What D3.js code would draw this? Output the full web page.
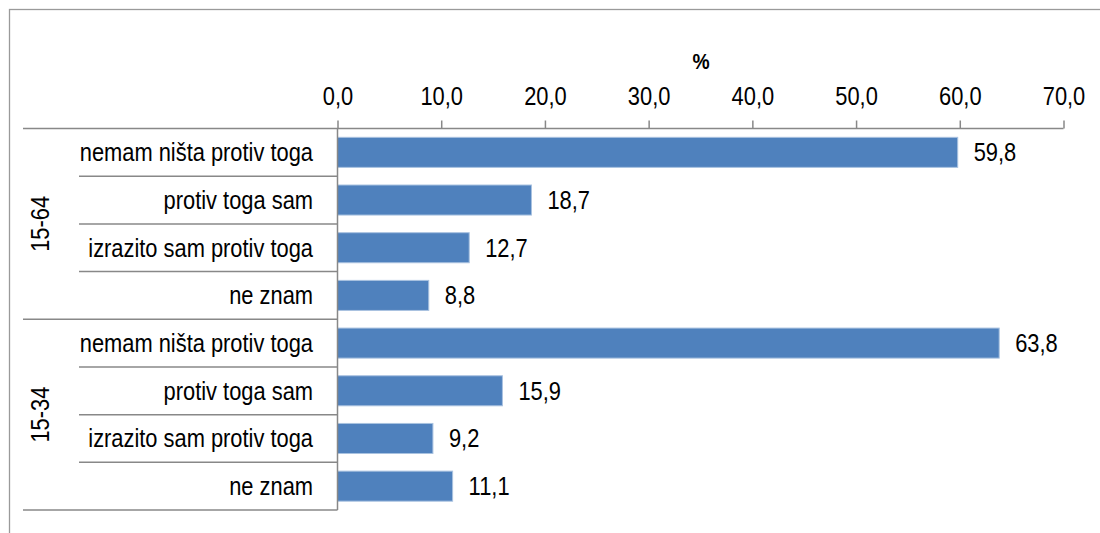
<!DOCTYPE html>
<html>

<head>
	<meta charset="utf-8">
	<title>Stav prema ... (15-64, 15-34)</title>
	<script type="text/javascript" src="https://cdn.jsdelivr.net/npm/d3@7"></script>
	<style>
		body { margin: 0; background: #fff; }
		text { font-family: "Liberation Sans", Arial, sans-serif; fill: #000; }
	</style>
</head>

<body>
	<script type="text/javascript">
		// Podaci
		const groups = ["15-64", "15-34"];
		const categories = ["nemam ništa protiv toga", "protiv toga sam", "izrazito sam protiv toga", "ne znam"];
		const values1564 = [59.8, 18.7, 12.7, 8.8];
		const values1534 = [63.8, 15.9, 9.2, 11.1];
		const tickValues = [0, 10, 20, 30, 40, 50, 60, 70];
		const axisTitle = "%";

		// jedan red za svaku kombinaciju grupa/kategorija
		const allValues = [values1564, values1534];
		let rows = [];
		for (let g = 0; g < groups.length; g++) {
			for (let c = 0; c < categories.length; c++) {
				rows.push({ key: g + "-" + c, group: groups[g], cat: categories[c], value: allValues[g][c] });
			}
		}

		const w = 1100;
		const h = 533;
		const topY = 128.5;
		const bottomY = 510;
		const x0 = 337.5;
		// tekst u originalu je uzak (Arial Narrow), pa ga malo stisnemo
		const squeeze = "scale(0.875,1)";

		const locale = d3.formatLocale({ decimal: ",", thousands: ".", grouping: [3], currency: ["", ""] });
		const fmt = locale.format(".1f");

		const xScale = d3.scaleLinear()
			.domain([0, 70])
			.range([x0, 1063.5]);

		const yScale = d3.scaleBand()
			.domain(rows.map(d => d.key))
			.range([topY, bottomY])
			.paddingInner(0.37)
			.paddingOuter(0.185);

		const step = yScale.step();

		const svg = d3.select("body")
			.append("svg")
			.attr("width", w)
			.attr("height", h);

		// okvir
		svg.append("rect")
			.attr("x", 9.5)
			.attr("y", 9.5)
			.attr("width", 1200)
			.attr("height", 600)
			.attr("fill", "none")
			.attr("stroke", "#9a9a9a")
			.attr("stroke-width", 1.3);

		// stupci
		svg.selectAll("rect.bar")
			.data(rows)
			.enter()
			.append("rect")
			.attr("class", "bar")
			.attr("x", xScale(0))
			.attr("y", d => yScale(d.key))
			.attr("width", d => xScale(d.value) - xScale(0))
			.attr("height", yScale.bandwidth())
			.attr("fill", "#4f81bd")
			.attr("stroke", "#a9c2e0")
			.attr("stroke-width", 1);

		// vrijednosti
		svg.selectAll("text.val")
			.data(rows)
			.enter()
			.append("text")
			.attr("class", "val")
			.attr("transform", d => "translate(" + (xScale(d.value) + 16) + "," + (yScale(d.key) + yScale.bandwidth() / 2 + 9) + ") " + squeeze)
			.attr("font-size", 25)
			.text(d => fmt(d.value));

		// x os (gore)
		const xAxis = d3.axisTop(xScale)
			.tickValues(tickValues)
			.tickSize(8)
			.tickPadding(15.5)
			.tickFormat(fmt);

		const gx = svg.append("g")
			.attr("transform", "translate(0," + topY + ")")
			.call(xAxis);
		gx.select(".domain").remove();
		gx.selectAll(".tick line").attr("stroke", "#888").attr("stroke-width", 1.5);
		gx.selectAll(".tick text")
			.attr("font-size", 25)
			.attr("fill", "#000")
			.attr("transform", squeeze)
			.style("font-family", "\"Liberation Sans\", Arial, sans-serif");

		svg.append("text")
			.attr("transform", "translate(701,69) " + squeeze)
			.attr("text-anchor", "middle")
			.attr("font-size", 22)
			.attr("font-weight", "bold")
			.text(axisTitle);

		// linije osi
		const lineColor = "#888";
		svg.append("line")
			.attr("x1", 23).attr("x2", xScale(70))
			.attr("y1", topY).attr("y2", topY)
			.attr("stroke", lineColor).attr("stroke-width", 1.5);
		svg.append("line")
			.attr("x1", x0).attr("x2", x0)
			.attr("y1", topY).attr("y2", bottomY)
			.attr("stroke", lineColor).attr("stroke-width", 1.5);

		// razdjelnici kategorija
		for (let i = 1; i <= rows.length; i++) {
			const y = topY + i * step;
			const isGroup = (i % categories.length === 0);
			svg.append("line")
				.attr("x1", isGroup ? 23 : 79).attr("x2", x0)
				.attr("y1", y).attr("y2", y)
				.attr("stroke", lineColor).attr("stroke-width", 1.5);
		}

		// nazivi kategorija
		svg.selectAll("text.cat")
			.data(rows)
			.enter()
			.append("text")
			.attr("class", "cat")
			.attr("transform", d => "translate(313," + (yScale(d.key) + yScale.bandwidth() / 2 + 9) + ") " + squeeze)
			.attr("text-anchor", "end")
			.attr("font-size", 25)
			.text(d => d.cat);

		// nazivi grupa
		svg.selectAll("text.grp")
			.data(groups)
			.enter()
			.append("text")
			.attr("class", "grp")
			.attr("transform", (d, i) => {
				const cy = topY + (i + 0.5) * categories.length * step;
				return "translate(49," + cy + ") rotate(-90) " + squeeze;
			})
			.attr("text-anchor", "middle")
			.attr("font-size", 25)
			.text(d => d);
	</script>
</body>

</html>
